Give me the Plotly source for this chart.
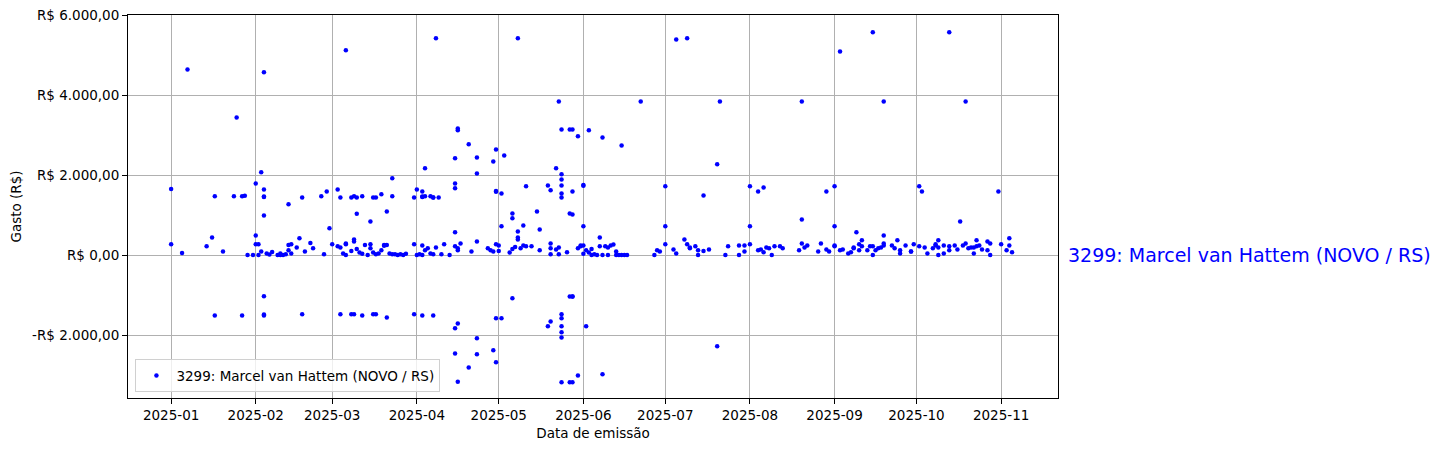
import plotly.graph_objects as go
import pandas as pd

# Day-of-month and expense value (R$) per month, 2025
jan_dias = [1, 1, 5, 7, 14, 16, 17, 17, 20, 24, 25, 27, 28, 27, 29, 31]
jan_valores = [1650, 270, 50, 4640, 220, 440, 1470, -1510, 90, 1470, 3440, 1470, 1480, -1510, 0, 0]

fev_dias = [1, 1, 1, 2, 2, 3, 3, 4, 4, 4, 4, 4, 4, 4, 4, 5, 6, 7, 9, 10, 10, 11, 12, 13, 13, 13, 14, 14,
            16, 17, 18, 18, 19, 21, 22, 25, 26, 27, 28]
fev_valores = [1790, 490, 270, 270, 0, 2070, 90, 1640, 1460, 1450, 990, 4570, -1030, -1490, -1510, 40, 10,
               75, 0, 0, 40, 0, 20, 120, 250, 1270, 40, 270, 190, 420, 1440, -1480, 90, 300, 170, 1470, 20,
               1590, 670]

mar_dias = [1, 3, 3, 4, 4, 4, 5, 6, 6, 6, 6, 8, 8, 8, 9, 9, 9, 9, 10, 10, 10, 11, 12, 12, 12, 13, 14, 15,
            15, 15, 16, 16, 16, 17, 17, 17, 18, 19, 19, 20, 20, 21, 21, 21, 22, 23, 23, 23, 24, 25, 26, 27,
            28, 31, 31, 31]
mar_valores = [270, 1640, 220, 190, 1440, -1480, 40, 290, 270, 0, 5120, 1440, -1480, 100, 1470, 390, 340,
               -1480, 1440, 1030, 150, 60, 1470, -1510, 30, 250, 0, 840, 170, 270, 1440, -1480, 60, 1440,
               -1480, 20, 40, 1520, 120, 250, 230, 1090, -1560, 250, 40, 1470, 1920, 20, 20, 0, 20, 0, 30,
               1440, 270, -1480]

abr_dias = [1, 1, 2, 3, 3, 3, 3, 3, 3, 4, 4, 4, 5, 6, 6, 7, 7, 7, 7, 8, 8, 9, 10, 11, 13, 15, 15, 15,
            15, 15, 15, 15, 16, 16, 16, 16, 16, 16, 17, 20, 20, 21, 23, 23, 23, 23, 23, 27, 28, 29, 29,
            29, 30, 30, 30, 30, 30, 30]
abr_valores = [1640, 0, 20, 1590, 1460, 1450, 240, -1510, 0, 2170, 1470, 120, 170, 1470, 40, 1440, 1440,
               20, -1510, 5420, 190, 1440, 20, 270, 0, 1790, 1670, 2420, 570, 220, -1830, -2460, 3120,
               3160, 170, 120, -1710, -3170, 290, 2770, -2810, 90, 2040, 2440, 340, -2080, -2480, 170,
               120, 2340, 90, -2380, 2640, 1580, 1600, 270, -2680, -1580]

mai_dias = [1, 1, 2, 2, 2, 3, 5, 6, 6, 6, 6, 7, 8, 8, 8, 8, 9, 10, 10, 11, 11, 13, 15, 16, 16, 19, 19,
            20, 20, 20, 20, 20, 22, 22, 23, 23, 23, 24, 24, 24, 24, 24, 24, 24, 24, 24, 24, 24, 24, 26,
            27, 27, 27, 27, 28, 28, 28, 28, 28, 28, 30, 30, 30, 31, 31]
mai_valores = [240, 100, 1540, 720, -1580, 2490, 60, 1040, 920, -1080, 150, 200, 5420, 590, 440, 390,
               170, 740, 240, 1720, 220, 220, 1090, 640, 120, 1740, -1780, 1620, -1660, 290, 170, 20, 2170,
               140, 3840, 190, 20, 2020, 1890, 1740, 1540, 1440, 3140, -1480, -1580, -1780, -1930, -2060,
               -3180, 70, 3140, 1040, -3180, -1040, 3140, 1010, 1590, -3180, -1040, -1040, 2970, 170,
               -3010, 220, 240]

jun_dias = [1, 1, 1, 1, 1, 2, 2, 3, 3, 4, 4, 5, 6, 7, 7, 8, 8, 8, 9, 10, 10, 11, 12, 13, 13, 14, 15,
            15, 16, 17, 22, 27, 28, 29]
jun_valores = [1730, 1750, 720, 240, 30, -1780, 120, 3120, 60, 0, 150, 20, 0, 440, 220, 2940, -2980, 0,
               220, 190, 0, 240, 260, 90, 0, 0, 2740, 0, 0, 0, 3840, 0, 120, 90]

jul_dias = [1, 1, 1, 4, 5, 5, 8, 9, 9, 10, 10, 12, 13, 13, 15, 15, 17, 20, 20, 21, 23, 24, 28, 28, 30, 30]
jul_valores = [1720, 720, 270, 140, 5390, 40, 390, 5420, 270, 190, 170, 220, 120, 0, 1490, 100, 140,
               2270, -2280, 3840, 0, 220, 240, 0, 90, 240]

ago_dias = [1, 1, 1, 4, 4, 5, 6, 6, 7, 8, 9, 10, 12, 13, 19, 20, 20, 20, 21, 22, 26, 27, 29, 29, 30]
ago_valores = [1720, 720, 270, 1590, 120, 140, 1690, 70, 190, 170, 0, 220, 220, 170, 120, 3840, 890, 290,
               190, 240, 90, 290, 1590, 140, 90]

set_dias = [1, 1, 1, 1, 3, 3, 4, 6, 7, 8, 8, 9, 10, 10, 11, 11, 13, 14, 15, 15, 15, 16, 17, 18, 19, 19,
            19, 19, 22, 23, 24, 25, 25, 27, 29, 29, 30]
set_valores = [1720, 720, 240, 220, 5090, 120, 140, 40, 70, 170, 190, 570, 120, 270, 370, 220, 120, 220,
               5570, 220, 0, 120, 170, 190, 3840, 490, 290, 240, 240, 170, 370, 120, 40, 240, 90, 90, 270]

out_dias = [2, 2, 3, 4, 5, 7, 8, 8, 9, 9, 9, 11, 11, 13, 13, 13, 15, 16, 17, 18, 19, 19, 20, 21, 22, 22,
            23, 23, 24, 25, 27, 27, 28, 28, 31]
out_valores = [1720, 220, 1590, 190, 40, 170, 240, 270, 370, 0, 190, 240, 40, 5570, 220, 120, 240, 140,
               840, 240, 3840, 290, 170, 190, 40, 190, 370, 220, 240, 140, 340, 120, 290, 0, 1590]

nov_dias = [1, 3, 4, 4, 5]
nov_valores = [270, 120, 420, 240, 70]

serie_nome = "3299: Marcel van Hattem (NOVO / RS)"
y_ticks = [-2000, 0, 2000, 4000, 6000]
y_labels = ["-R$ 2.000,00", "R$ 0,00", "R$ 2.000,00", "R$ 4.000,00", "R$ 6.000,00"]
x_ticks = ["2025-%02d-01" % m for m in range(1, 12)]
x_labels = ["2025-%02d" % m for m in range(1, 12)]

meses = [(1, jan_dias, jan_valores), (2, fev_dias, fev_valores), (3, mar_dias, mar_valores),
         (4, abr_dias, abr_valores), (5, mai_dias, mai_valores), (6, jun_dias, jun_valores),
         (7, jul_dias, jul_valores), (8, ago_dias, ago_valores), (9, set_dias, set_valores),
         (10, out_dias, out_valores), (11, nov_dias, nov_valores)]

datas, valores = [], []
for m, dias, vals in meses:
    for d, v in zip(dias, vals):
        datas.append(pd.Timestamp(2025, m, d))
        valores.append(v)

FONT = "DejaVu Sans"

fig = go.Figure()
fig.add_trace(go.Scatter(
    x=datas, y=valores, mode="markers", name=serie_nome,
    marker=dict(color="#0000ff", size=4.5, line=dict(width=0)),
))

fig.add_annotation(
    x=1.009, y=0, xref="paper", yref="y", text=serie_nome, showarrow=False,
    xanchor="left", yanchor="middle", font=dict(family=FONT, size=19, color="#0000ff"),
)

axis_common = dict(
    showline=True, linecolor="black", linewidth=1, mirror=True,
    ticks="outside", ticklen=5, tickcolor="black", tickwidth=1,
    showgrid=True, gridcolor="#b0b0b0", gridwidth=1, zeroline=False, automargin=False,
    ticklabeloverflow="allow",
    tickfont=dict(family=FONT, size=13.5, color="black"),
)

fig.update_layout(
    width=1440, height=445,
    margin=dict(l=120, r=390, t=7, b=55),
    paper_bgcolor="white", plot_bgcolor="white",
    font=dict(family=FONT, size=13.5, color="black"),
    showlegend=True,
    legend=dict(x=0.008, y=0.015, xanchor="left", yanchor="bottom",
                bgcolor="rgba(255,255,255,0.8)", bordercolor="#d0d0d0", borderwidth=1,
                font=dict(family=FONT, size=13.5, color="black")),
    xaxis=dict(axis_common, range=["2024-12-16 05:00", "2025-11-21 20:00"],
               tickvals=x_ticks, ticktext=x_labels,
               title=dict(text="Data de emissão", font=dict(family=FONT, size=13.5), standoff=6)),
    yaxis=dict(axis_common, range=[-3575, 6000], tickvals=y_ticks, ticktext=y_labels,
               title=dict(text="Gasto (R$)", font=dict(family=FONT, size=13.5), standoff=8)),
)

fig.write_html("out.html")
